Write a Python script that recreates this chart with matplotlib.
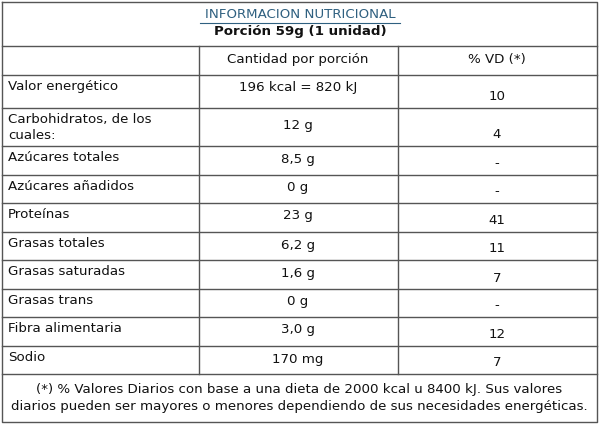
import matplotlib
matplotlib.use("Agg")
import matplotlib.pyplot as plt

title = "INFORMACION NUTRICIONAL"
subtitle = "Porción 59g (1 unidad)"
headers = ["", "Cantidad por porción", "% VD (*)"]
nutrients = ["Valor energético", "Carbohidratos, de los\ncuales:", "Azúcares totales",
             "Azúcares añadidos", "Proteínas", "Grasas totales", "Grasas saturadas",
             "Grasas trans", "Fibra alimentaria", "Sodio"]
amounts = ["196 kcal = 820 kJ", "12 g", "8,5 g", "0 g", "23 g", "6,2 g", "1,6 g",
           "0 g", "3,0 g", "170 mg"]
vd = ["10", "4", "-", "-", "41", "11", "7", "-", "12", "7"]
footnote = ("(*) % Valores Diarios con base a una dieta de 2000 kcal u 8400 kJ. Sus valores\n"
            "diarios pueden ser mayores o menores dependiendo de sus necesidades energéticas.")

row_edges = [75, 108, 146, 175, 203, 232, 260, 289, 317, 346, 374]
col_edges = [2, 199, 398, 597]
top, head_top, bottom = 2, 46, 422

fig = plt.figure(figsize=(6, 4.24), dpi=100)
ax = fig.add_axes([0, 0, 1, 1])
ax.set_xlim(0, 600); ax.set_ylim(424, 0); ax.axis("off")
lc = "#555555"; lw = 1.0
fs = 9.6
tc = "#111111"

# outer box
ax.plot([2, 597, 597, 2, 2], [top, top, bottom, bottom, top], color=lc, lw=lw)
for y in [head_top] + row_edges:
    ax.plot([2, 597], [y, y], color=lc, lw=lw)
for x in col_edges[1:3]:
    ax.plot([x, x], [head_top, row_edges[-1]], color=lc, lw=lw)

t = ax.text(300, 15, title, ha="center", va="center", fontsize=fs, color="#2f6080")
ax.plot([200, 400], [23, 23], color="#2f6080", lw=0.8)
ax.text(300, 32, subtitle, ha="center", va="center", fontsize=fs, fontweight="bold", color=tc)

ax.text(298, 59, headers[1], ha="center", va="center", fontsize=fs, color=tc)
ax.text(497, 59, headers[2], ha="center", va="center", fontsize=fs, color=tc)

for i, (n, a, v) in enumerate(zip(nutrients, amounts, vd)):
    y0, y1 = row_edges[i], row_edges[i + 1]
    ax.text(8, y0 + 5, n, ha="left", va="top", fontsize=fs, color=tc, linespacing=1.3)
    ax.text(298, (y0 + y1) / 2 - 2 if i == 1 else y0 + 13, a, ha="center", va="center", fontsize=fs, color=tc)
    ax.text(497, y1 - 11, v, ha="center", va="center", fontsize=fs, color=tc)

ax.text(299, 398, footnote, ha="center", va="center", fontsize=fs, color=tc, linespacing=1.35)

fig.savefig("out.png", dpi=100, facecolor="white")
